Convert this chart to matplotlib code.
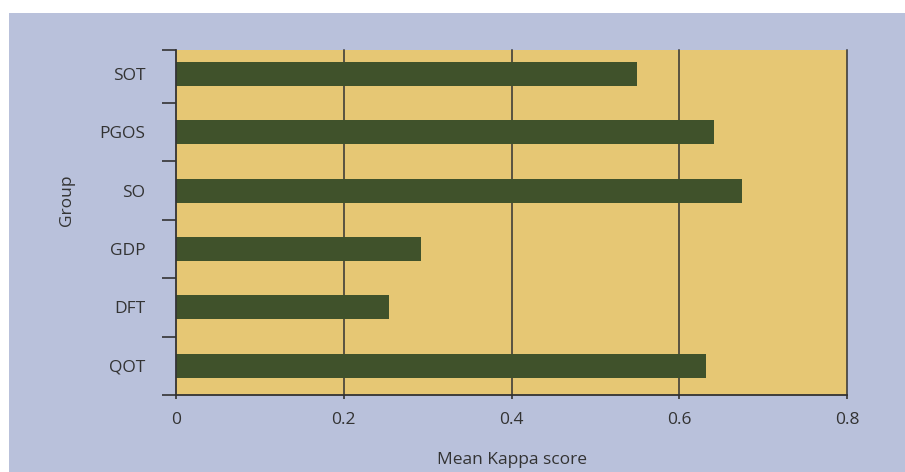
import matplotlib.pyplot as plt
from matplotlib.patches import Rectangle
import numpy as np

plt.rcParams['font.family'] = ['Open Sans', 'DejaVu Sans']

# data (top to bottom as shown)
groups = ['SOT', 'PGOS', 'SO', 'GDP', 'DFT', 'QOT']
kappa = [0.55, 0.642, 0.675, 0.292, 0.254, 0.632]
xticks = [0, 0.2, 0.4, 0.6, 0.8]

bg = '#b9c1db'
panel = '#e6c774'
bar_col = '#40522b'
txt = '#333333'
fs = 12.5

fig = plt.figure(figsize=(9.05, 4.72), dpi=100, facecolor='white')
fig.patches.append(Rectangle((9 / 905, 0), 1, (472 - 13) / 472, transform=fig.transFigure,
                             facecolor=bg, edgecolor='none', zorder=-10))

ax = fig.add_axes([176 / 905, 77 / 472, 671 / 905, 345 / 472])
ax.set_facecolor(panel)

y = np.arange(len(groups))
ax.barh(y, kappa, height=0.41, color=bar_col, zorder=3)
# top band is cut short in the original
top = -0.41
ax.set_ylim(len(groups) - 0.5, top)
ax.set_xlim(0, 0.8)

# boundary ticks (major) and centred labels (minor)
ax.set_yticks([top] + list(np.arange(1, len(groups) + 1) - 0.5))
ax.set_yticklabels([])
ax.set_yticks(y, minor=True)
ax.set_yticklabels(groups, minor=True)
ax.tick_params(axis='y', which='major', length=10, width=1.2, color=txt)
ax.tick_params(axis='y', which='minor', length=0, pad=22, labelsize=fs, labelcolor=txt)

ax.set_xticks(xticks)
ax.set_xticklabels(['0', '0.2', '0.4', '0.6', '0.8'])
ax.tick_params(axis='x', length=3, width=1.2, color=txt, pad=9, labelsize=fs, labelcolor=txt)

for v in xticks[1:]:
    ax.axvline(v, color=txt, lw=1.1, zorder=2, clip_on=False)

ax.spines['top'].set_visible(False)
ax.spines['right'].set_visible(False)
ax.spines['left'].set_color(txt)
ax.spines['left'].set_linewidth(1.3)
ax.spines['bottom'].set_color(txt)
ax.spines['bottom'].set_linewidth(1.3)
ax.spines['left'].set_zorder(4)

ax.set_xlabel('Mean Kappa score', fontsize=fs, color=txt)
ax.xaxis.set_label_coords(0.5, -0.165)
ax.set_ylabel('Group', fontsize=fs, color=txt)
ax.yaxis.set_label_coords(-0.15, 0.565)

plt.savefig('out.png', dpi=100, facecolor=fig.get_facecolor())
